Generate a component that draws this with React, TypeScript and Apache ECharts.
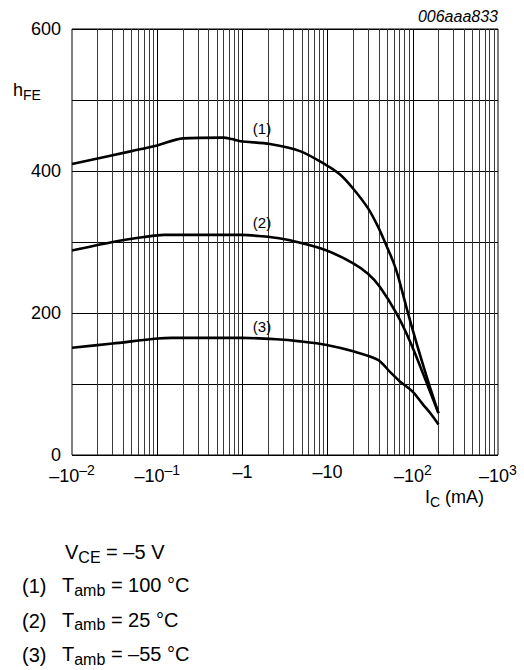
import React, { useEffect, useRef } from 'react';
import * as echarts from 'echarts';

// Curve (1): Tamb = 100 °C
const icCurve1 = [0.01, 0.05, 0.1, 0.2, 0.6, 0.75, 0.95, 2.1, 4.75, 9.75, 14, 20, 30, 39.3, 47, 59, 67.5, 84.6, 111, 151, 200];
const hfeCurve1 = [410, 428, 436, 446, 447, 445, 442, 438, 428, 408, 395, 375, 347, 321, 300, 272, 251, 207, 157, 104, 59];
// Curve (2): Tamb = 25 °C
const icCurve2 = [0.01, 0.03, 0.07, 0.12, 1, 1.7, 2.8, 4.75, 9.75, 20, 30, 41, 64.6, 95, 146, 200];
const hfeCurve2 = [288, 300, 307, 310, 310, 308, 305, 299, 288, 270, 255, 237, 199, 157, 101, 59];
// Curve (3): Tamb = -55 °C
const icCurve3 = [0.01, 0.03, 0.1, 0.15, 1, 2.5, 4.75, 9.75, 20, 39, 54, 70, 100, 130, 165, 200];
const hfeCurve3 = [151, 157, 164, 165, 165, 163, 160, 155, 146, 134, 117, 104, 89, 72, 57, 43];

const curveLabels = ['(1)', '(2)', '(3)'];
const curveLabelIc = [1.7, 1.7, 1.7];
const curveLabelHfe = [460, 328, 181];

const noteLines = ['100 °C', '25 °C', '–55 °C'];

const xMin = 0.01;
const xMax = 1000;
const yMin = 0;
const yMax = 600;
const yStep = 100;
const decadeExponents = [-2, -1, 0, 1, 2];
const minorMultipliers = [2, 3, 4, 5, 6, 7, 8, 9];
const majorLines = [0.1, 1, 10, 100];

const FONT = '"Liberation Sans", Arial, Helvetica, sans-serif';

export default function App() {
  const ref = useRef<HTMLDivElement>(null);
  useEffect(() => {
    document.body.style.margin = '0';
    const chart = echarts.init(ref.current!, null, { renderer: 'svg' });

    const minorLines: number[] = [];
    decadeExponents.forEach((e) => {
      minorMultipliers.forEach((m) => {
        minorLines.push(Number((m * Math.pow(10, e)).toPrecision(3)));
      });
    });

    const zip = (xs: number[], ys: number[]) => xs.map((x, i) => [x, ys[i]]);

    const curveStyle = {
      type: 'line' as const,
      showSymbol: false,
      symbol: 'none',
      smooth: 0.3,
      lineStyle: { color: '#000', width: 2.6, join: 'round' },
      z: 5,
      silent: true,
    };

    const staticGraphic: any[] = [
      {
        type: 'text',
        right: 26,
        top: 8,
        style: { text: '006aaa833', font: `italic 16px ${FONT}`, fill: '#000' },
      },
      {
        type: 'text',
        left: 13,
        top: 81,
        style: {
          text: 'h{sub|FE}',
          fontSize: 18,
          fontFamily: FONT,
          fill: '#000',
          rich: { sub: { fontSize: 14, padding: [9, 0, 0, 0], fontFamily: FONT } },
        },
      },
      {
        type: 'text',
        left: 425,
        top: 488,
        style: {
          text: 'I{sub|C} (mA)',
          fontSize: 18,
          fontFamily: FONT,
          fill: '#000',
          rich: { sub: { fontSize: 14, padding: [9, 0, 0, 0], fontFamily: FONT } },
        },
      },
      {
        type: 'text',
        left: 65,
        top: 542,
        style: {
          text: 'V{sub|CE} = –5 V',
          fontSize: 20,
          fontFamily: FONT,
          fill: '#000',
          rich: { sub: { fontSize: 16, padding: [10, 0, 0, 0], fontFamily: FONT } },
        },
      },
      ...curveLabels.map((t, i) => ({
        type: 'text',
        left: 22,
        top: 576 + i * 34.5,
        style: { text: t, fontSize: 20, fontFamily: FONT, fill: '#000' },
      })),
      ...noteLines.map((t, i) => ({
        type: 'text',
        left: 62,
        top: 575 + i * 34.5,
        style: {
          text: `T{sub|amb} = ${t}`,
          fontSize: 20,
          fontFamily: FONT,
          fill: '#000',
          rich: { sub: { fontSize: 16, padding: [10, 0, 0, 0], fontFamily: FONT } },
        },
      })),
    ];

    const option: any = {
      animation: false,
      textStyle: { fontFamily: FONT },
      grid: {
        left: 72,
        top: 29,
        width: 426,
        height: 426,
        show: true,
        borderColor: '#000',
        borderWidth: 1,
        containLabel: false,
      },
      xAxis: {
        type: 'log',
        logBase: 10,
        min: xMin,
        max: xMax,
        axisLine: { show: false },
        axisTick: { show: false },
        splitLine: { show: false },
        axisLabel: {
          fontSize: 18,
          color: '#000',
          fontFamily: FONT,
          margin: 8,
          formatter: (v: number) => {
            const e = Math.round(Math.log10(v));
            if (e === 0) return '–1';
            if (e === 1) return '–10';
            return `–10{sup|${e < 0 ? '–' + -e : e}}`;
          },
          rich: {
            sup: { fontSize: 14, padding: [0, 0, 12, 0], fontFamily: FONT, color: '#000' },
          },
        },
      },
      yAxis: {
        type: 'value',
        min: yMin,
        max: yMax,
        interval: yStep,
        axisLine: { show: false },
        axisTick: { show: false },
        splitLine: { show: true, lineStyle: { color: '#000', width: 1 } },
        axisLabel: {
          fontSize: 18,
          color: '#000',
          fontFamily: FONT,
          margin: 11,
          formatter: (v: number) => (v % 200 === 0 ? String(v) : ''),
        },
      },
      series: [
        {
          type: 'line',
          data: [],
          silent: true,
          z: 1,
          markLine: {
            silent: true,
            symbol: 'none',
            animation: false,
            label: { show: false },
            data: [
              ...minorLines.map((v) => ({ xAxis: v, lineStyle: { color: '#3a3a3a', width: 1, type: 'solid' } })),
              ...majorLines.map((v) => ({ xAxis: v, lineStyle: { color: '#000', width: 1, type: 'solid' } })),
            ],
          },
        },
        { ...curveStyle, name: '(1)', data: zip(icCurve1, hfeCurve1) },
        { ...curveStyle, name: '(2)', data: zip(icCurve2, hfeCurve2) },
        { ...curveStyle, name: '(3)', data: zip(icCurve3, hfeCurve3) },
      ],
      graphic: staticGraphic,
    };

    chart.setOption(option);

    const labelGraphic = curveLabels.map((t, i) => {
      const [px, py] = chart.convertToPixel({ gridIndex: 0 }, [curveLabelIc[i], curveLabelHfe[i]]) as number[];
      return {
        type: 'text',
        x: px,
        y: py,
        z: 10,
        style: {
          text: t,
          fontSize: 15,
          fontFamily: FONT,
          fill: '#000',
          align: 'center',
          verticalAlign: 'middle',
        },
      };
    });
    chart.setOption({ graphic: [...staticGraphic, ...labelGraphic] });

    return () => chart.dispose();
  }, []);
  return <div ref={ref} style={{ width: 524, height: 670 }} />;
}
